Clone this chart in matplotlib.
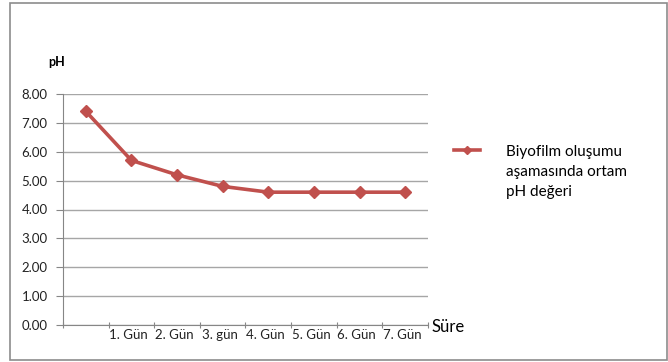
import matplotlib.pyplot as plt
from matplotlib.patches import Rectangle
import numpy as np

# pH values during biofilm formation
days = ['', '1. Gün', '2. Gün', '3. gün', '4. Gün', '5. Gün', '6. Gün', '7. Gün']
ph = [7.4, 5.7, 5.2, 4.8, 4.6, 4.6, 4.6, 4.6]
yticks = [0, 1, 2, 3, 4, 5, 6, 7, 8]

red = '#C0504D'
grid = '#A6A6A6'
axis = '#868686'

plt.rcParams['font.family'] = ['Lato', 'DejaVu Sans']

fig = plt.figure(figsize=(6.68, 3.62), dpi=100)
fig.patches.append(Rectangle((10 / 668, 2 / 362), 657 / 668, 357 / 362,
                             transform=fig.transFigure, fill=False,
                             edgecolor='#8C8C8C', linewidth=1.2))

ax = fig.add_axes([63 / 668, 37 / 362, 365 / 668, 231 / 362])
x = np.arange(len(days))
line, = ax.plot(x, ph, color=red, linewidth=2.6, marker='D', markersize=6.5,
                markeredgecolor=red, label='Biyofilm oluşumu\naşamasında ortam\npH değeri')

ax.set_xlim(-0.5, len(days) - 0.5)
ax.set_ylim(0, 8)
ax.set_yticks(yticks)
ax.set_yticklabels([f'{v:.2f}' for v in yticks], fontsize=9.5, color='#222222')
ax.yaxis.grid(True, color=grid, linewidth=1)
ax.set_axisbelow(True)

# tick marks sit on category boundaries, labels at category centres
ax.set_xticks(np.arange(-0.5, len(days)))
ax.set_xticklabels([])
ax.set_xticks(x - 0.06, minor=True)
ax.set_xticklabels(days, minor=True, fontsize=9.5, color='#222222')
ax.tick_params(axis='x', which='minor', length=0, pad=3)
ax.tick_params(axis='x', which='major', length=5, color=axis, direction='inout')
ax.tick_params(axis='y', length=5, color=axis, pad=6)

for s in ['top', 'right']:
    ax.spines[s].set_visible(False)
for s in ['left', 'bottom']:
    ax.spines[s].set_color(axis)

fig.text(48 / 668, 1 - 62 / 362, 'pH', fontsize=9, fontweight='bold', va='center')
fig.text(432 / 668, 1 - 327 / 362, 'Süre', fontsize=12, va='center')

leg = fig.legend(handles=[line], loc='upper left', bbox_to_anchor=(440 / 668, 1 - 131 / 362),
                 frameon=False, fontsize=11, handlelength=1.7, handletextpad=1.7,
                 markerscale=0.7)
for t in leg.get_texts():
    t.set_linespacing(1.55)
# keep the legend line next to the first text line
for col in leg._legend_handle_box.get_children():
    for row in col.get_children():
        row.align = 'top'

fig.savefig('out.png', dpi=100)
